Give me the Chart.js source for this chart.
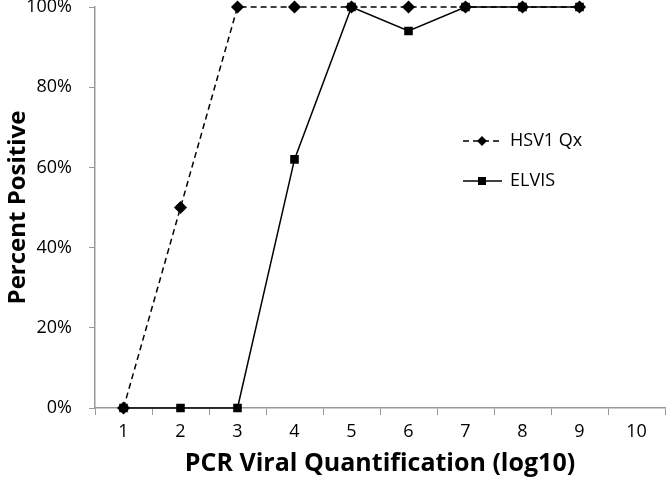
<!DOCTYPE html>
<html>
<head>
<meta charset="utf-8">
<script src="https://cdn.jsdelivr.net/npm/chart.js@4"></script>
<style>
  html, body { margin: 0; padding: 0; background: #fff; }
  #wrap { width: 666px; height: 483px; }
</style>
</head>
<body>
<div id="wrap"><canvas id="myChart"></canvas></div>
<script>
// data
var labels = ['1', '2', '3', '4', '5', '6', '7', '8', '9', '10'];
var hsvQx = [0, 50, 100, 100, 100, 100, 100, 100, 100, null];
var elvis = [0, 0, 0, 62, 100, 94, 100, 100, 100, null];
var yTicks = [0, 20, 40, 60, 80, 100];

var font = "'Open Sans', 'Noto Sans', sans-serif";

// legend drawn inside the plot, like the original
var insideLegend = {
  id: 'insideLegend',
  afterDatasetsDraw: function(chart) {
    var c = chart.ctx;
    var items = chart.data.datasets;
    c.save();
    items.forEach(function(ds, i) {
      var y = 141 + i * 40;
      c.strokeStyle = '#000';
      c.lineWidth = 1.5;
      c.setLineDash(ds.borderDash || []);
      c.beginPath();
      c.moveTo(463, y);
      c.lineTo(502, y);
      c.stroke();
      c.setLineDash([]);
      c.fillStyle = '#000';
      c.beginPath();
      if (ds.pointStyle === 'rectRot') {
        c.moveTo(482, y - 5); c.lineTo(487, y); c.lineTo(482, y + 5); c.lineTo(477, y);
      } else {
        c.rect(478, y - 4, 8, 8);
      }
      c.closePath();
      c.fill();
      c.font = '18px ' + font;
      c.textBaseline = 'middle';
      c.fillText(ds.label, 510, y);
    });
    c.restore();
  }
};

var ctx = document.getElementById('myChart');
var myChart = new Chart(ctx, {
  type: 'line',
  data: {
    labels: labels,
    datasets: [{
      label: 'HSV1 Qx',
      data: hsvQx,
      borderColor: '#000',
      backgroundColor: '#000',
      borderWidth: 1.5,
      borderDash: [6, 4],
      pointStyle: 'rectRot',
      pointRadius: 5.5,
      pointHoverRadius: 5.5,
      tension: 0,
      clip: false
    }, {
      label: 'ELVIS',
      data: elvis,
      borderColor: '#000',
      backgroundColor: '#000',
      borderWidth: 1.5,
      pointStyle: 'rect',
      pointRadius: 5,
      pointHoverRadius: 5,
      tension: 0,
      clip: false
    }]
  },
  options: {
    responsive: true,
    maintainAspectRatio: false,
    animation: false,
    layout: { autoPadding: false, padding: { top: 7, right: 1, left: 0, bottom: 0 } },
    plugins: {
      legend: { display: false },
      tooltip: { enabled: false }
    },
    scales: {
      x: {
        offset: true,
        grid: {
          offset: true,
          drawOnChartArea: false,
          tickLength: 7,
          color: '#999'
        },
        border: { color: '#999', width: 1.5 },
        ticks: { color: '#000', font: { family: font, size: 18 }, padding: 6, maxRotation: 0 },
        title: {
          display: true,
          text: 'PCR Viral Quantification (log10)',
          color: '#000',
          font: { family: font, size: 25, weight: 'bold' },
          padding: { top: 4 }
        },
        afterFit: function(s) { s.height = 75; s.paddingLeft = 0; s.paddingRight = 0; }
      },
      y: {
        min: 0,
        max: 100,
        afterBuildTicks: function(s) {
          s.ticks = yTicks.map(function(v) { return { value: v }; });
        },
        grid: { drawOnChartArea: false, tickLength: 6, color: '#999' },
        border: { color: '#999', width: 1.5 },
        ticks: {
          color: '#000',
          font: { family: font, size: 18 },
          padding: 17,
          callback: function(v) { return v + '%'; }
        },
        title: {
          display: true,
          text: 'Percent Positive',
          color: '#000',
          font: { family: font, size: 24, weight: 'bold' },
          padding: { bottom: 2 }
        },
        afterFit: function(s) { s.width = 95; s.paddingTop = 0; s.paddingBottom = 0; }
      }
    }
  },
  plugins: [insideLegend]
});
</script>
</body>
</html>
